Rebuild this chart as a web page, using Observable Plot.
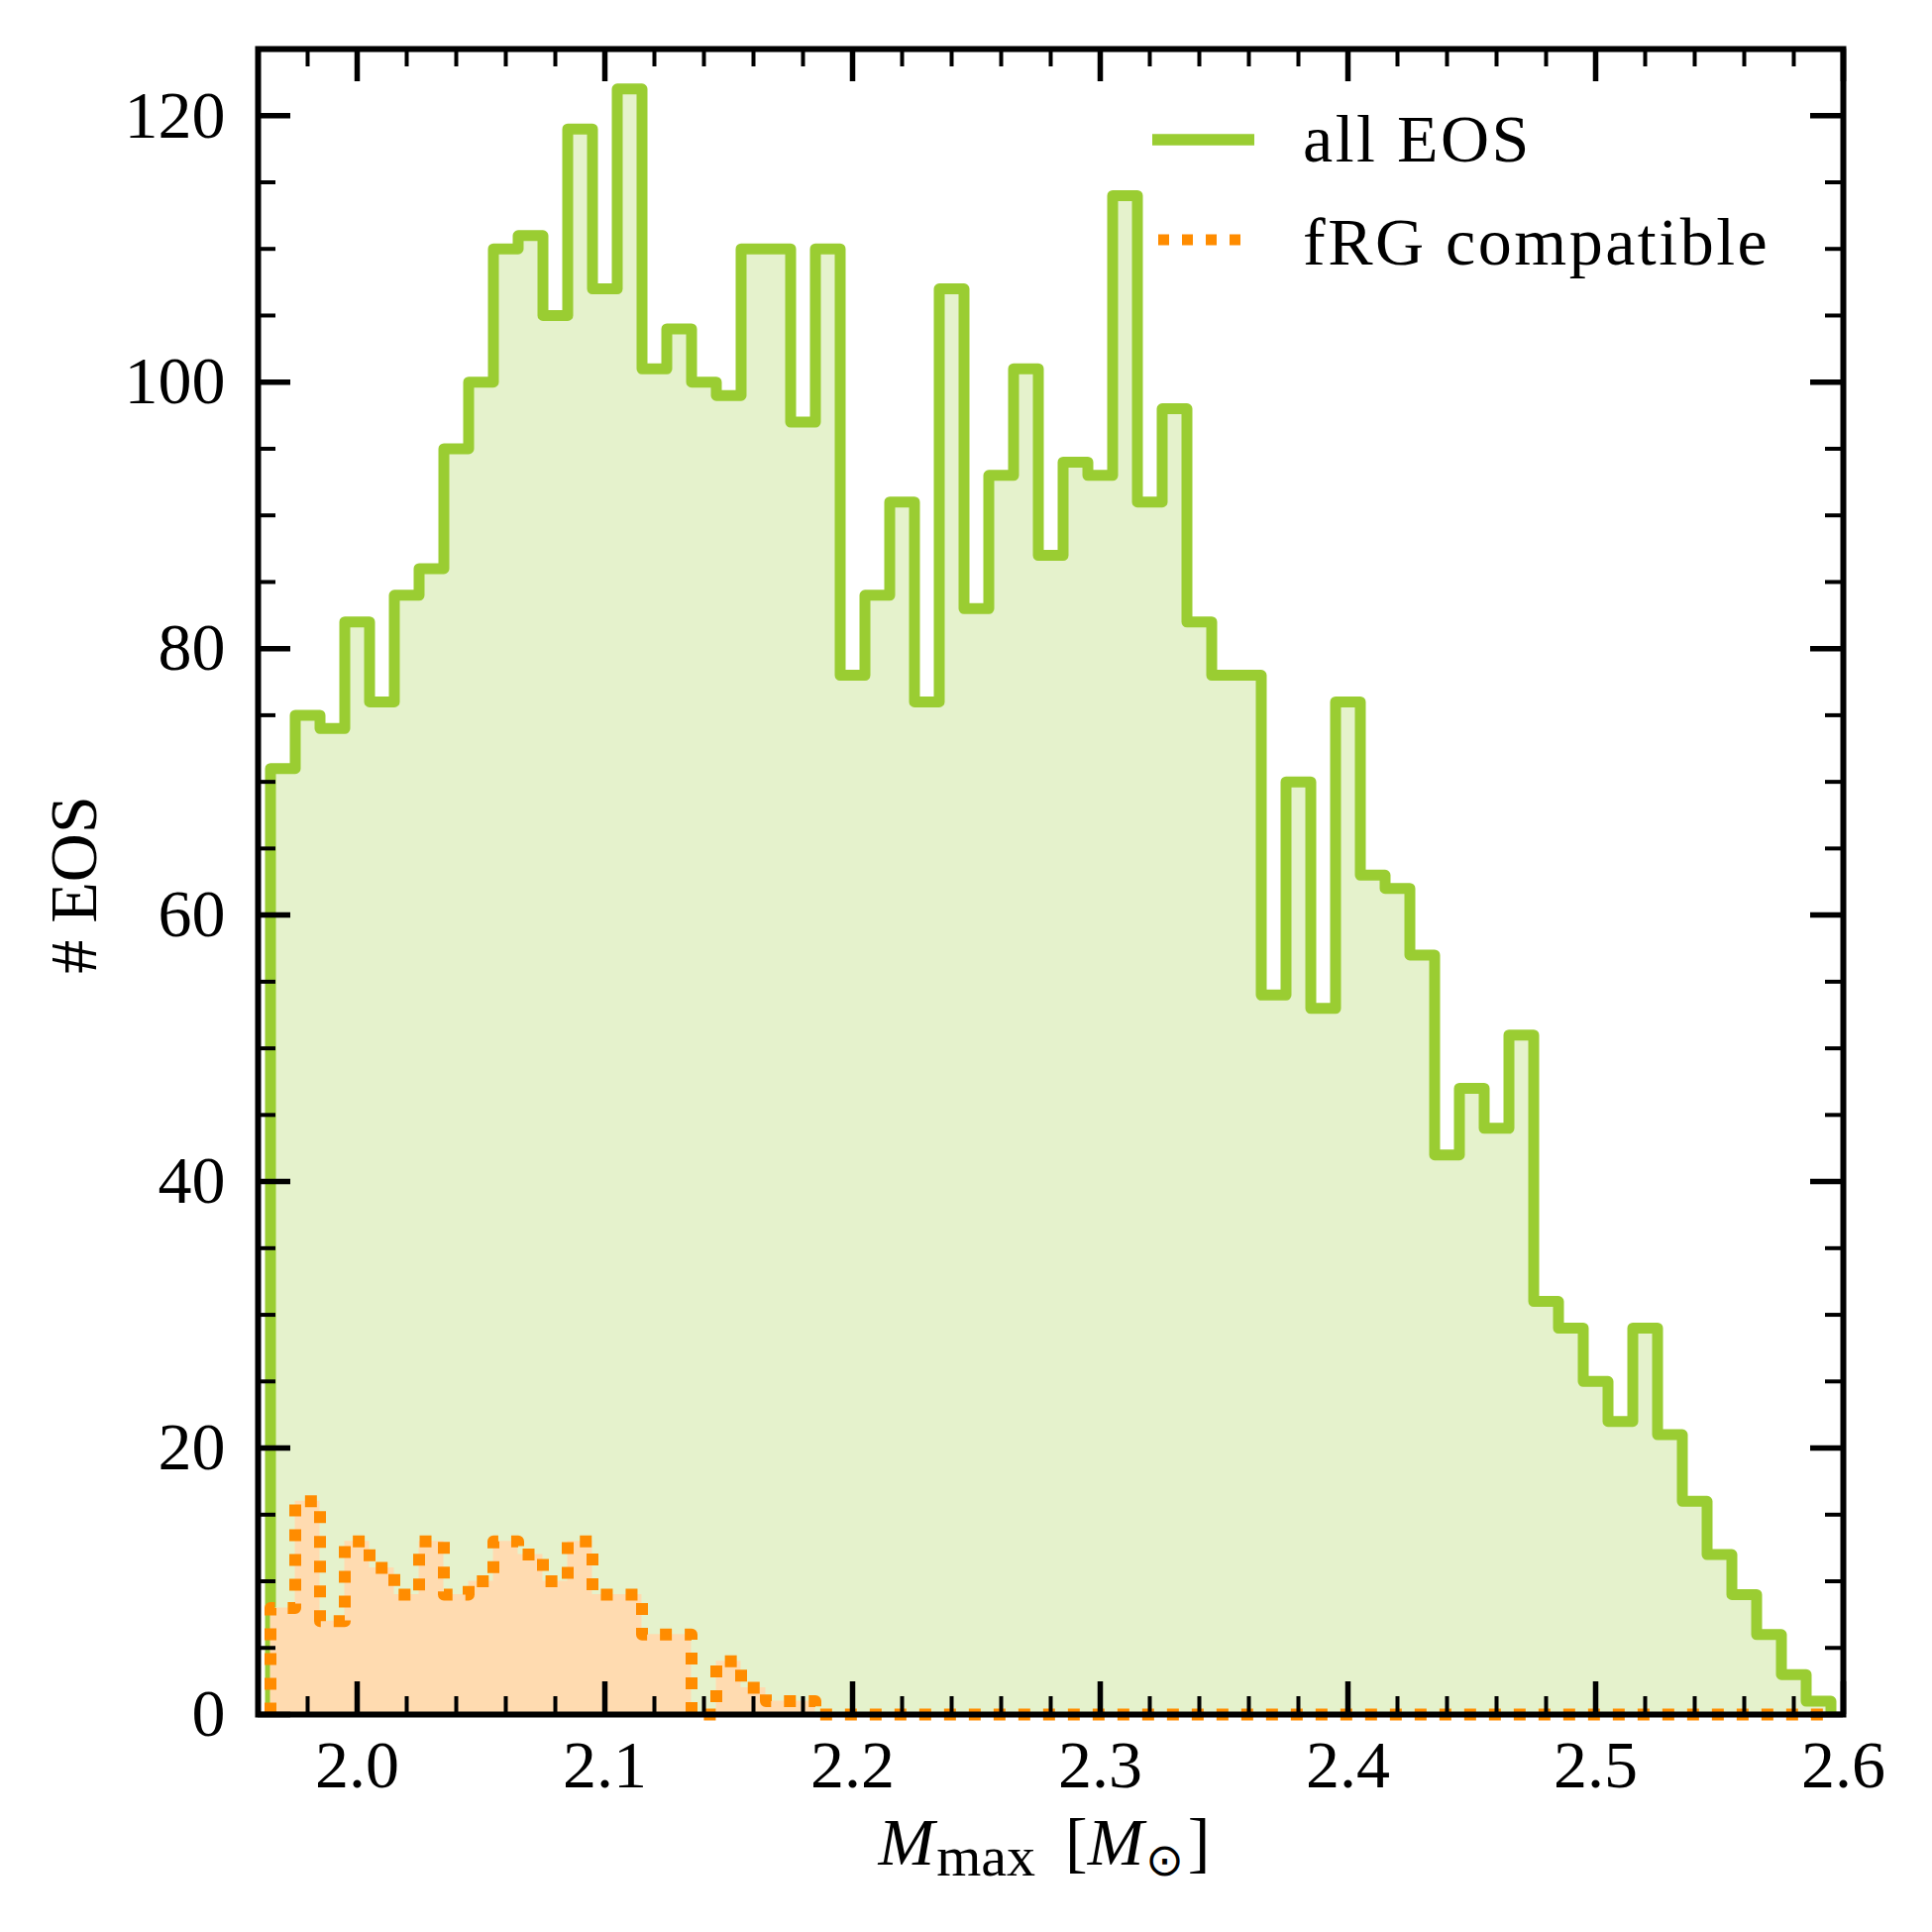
<!DOCTYPE html>
<html>
<head>
<meta charset="utf-8">
<script src="https://cdn.jsdelivr.net/npm/d3@7"></script>
<script src="https://cdn.jsdelivr.net/npm/@observablehq/plot@0.6"></script>
<style>
  html, body { margin: 0; padding: 0; background: #ffffff; }
</style>
</head>
<body>
<div id="chart"></div>
<script>
// ---- data ----
const binCenters = [
  1.97, 1.98, 1.99, 2.00, 2.01, 2.02, 2.03, 2.04, 2.05, 2.06,
  2.07, 2.08, 2.09, 2.10, 2.11, 2.12, 2.13, 2.14, 2.15, 2.16,
  2.17, 2.18, 2.19, 2.20, 2.21, 2.22, 2.23, 2.24, 2.25, 2.26,
  2.27, 2.28, 2.29, 2.30, 2.31, 2.32, 2.33, 2.34, 2.35, 2.36,
  2.37, 2.38, 2.39, 2.40, 2.41, 2.42, 2.43, 2.44, 2.45, 2.46,
  2.47, 2.48, 2.49, 2.50, 2.51, 2.52, 2.53, 2.54, 2.55, 2.56,
  2.57, 2.58, 2.59
];
const binWidth = 0.01;

const allEOS = [
  71, 75, 74, 82, 76, 84, 86, 95, 100, 110,
  111, 105, 119, 107, 122, 101, 104, 100, 99, 110,
  110, 97, 110, 78, 84, 91, 76, 107, 83, 93,
  101, 87, 94, 93, 114, 91, 98, 82, 78, 78,
  54, 70, 53, 76, 63, 62, 57, 42, 47, 44,
  51, 31, 29, 25, 22, 29, 21, 16, 12, 9,
  6, 3, 1
];

const fRGcompatible = [
  8, 16, 7, 13, 11, 9, 13, 9, 10, 13,
  12, 10, 13, 9, 9, 6, 6, 0, 4, 2,
  1, 1, 0, 0, 0, 0, 0, 0, 0, 0,
  0, 0, 0, 0, 0, 0, 0, 0, 0, 0,
  0, 0, 0, 0, 0, 0, 0, 0, 0, 0,
  0, 0, 0, 0, 0, 0, 0, 0, 0, 0,
  0, 0, 0
];

const xMajorTicks = [2.0, 2.1, 2.2, 2.3, 2.4, 2.5, 2.6];
const xMinorTicks = [1.98, 2.02, 2.04, 2.06, 2.08, 2.12, 2.14, 2.16, 2.18,
  2.22, 2.24, 2.26, 2.28, 2.32, 2.34, 2.36, 2.38, 2.42, 2.44, 2.46, 2.48,
  2.52, 2.54, 2.56, 2.58];
const yMajorTicks = [0, 20, 40, 60, 80, 100, 120];
const yMinorTicks = [5, 10, 15, 25, 30, 35, 45, 50, 55, 65, 70, 75, 85, 90, 95, 105, 110, 115];

const seriesLabels = ["all EOS", "fRG compatible"];
const xLabelParts = ["M", "max", "[", "M", "\u2299", "]"];
const yLabel = "# EOS";

// ---- layout / style ----
const W = 1950, H = 1950;
const mL = 260, mR = 90, mT = 49, mB = 220;
const plotW = W - mL - mR, plotH = H - mT - mB;
const FONT = "'Liberation Serif', 'Times New Roman', serif";
const green = "#9ACD32", greenFill = "#E5F2CC";
const orange = "#FF8C00", orangeFill = "#FFDBB0";

function stepPoints(values) {
  const pts = [{x: binCenters[0] - binWidth / 2, y: 0}];
  values.forEach((v, i) => {
    pts.push({x: binCenters[i] - binWidth / 2, y: v});
    pts.push({x: binCenters[i] + binWidth / 2, y: v});
  });
  pts.push({x: binCenters[binCenters.length - 1] + binWidth / 2, y: 0});
  return pts;
}
const allPts = stepPoints(allEOS);
const frgPts = stepPoints(fRGcompatible);

const majLen = 33, minLen = 18, majW = 5.5, minW = 4;

const chart = Plot.plot({
  width: W,
  height: H,
  marginLeft: mL,
  marginRight: mR,
  marginTop: mT,
  marginBottom: mB,
  style: {fontFamily: FONT, background: "#ffffff", color: "#000000"},
  x: {domain: [1.96, 2.6]},
  y: {domain: [0, 125]},
  marks: [
    Plot.areaY(allPts, {x: "x", y1: 0, y2: "y", fill: greenFill}),
    Plot.line(allPts, {x: "x", y: "y", stroke: green, strokeWidth: 11, strokeLinejoin: "round", strokeLinecap: "butt"}),
    Plot.areaY(frgPts, {x: "x", y1: 0, y2: "y", fill: orangeFill}),
    Plot.line(frgPts, {x: "x", y: "y", stroke: orange, strokeWidth: 12, strokeDasharray: "12 13", strokeLinejoin: "round", strokeLinecap: "butt"}),
    // inward ticks on all four sides
    Plot.tickX(xMajorTicks, {x: d => d, insetTop: plotH - majLen, stroke: "black", strokeWidth: majW}),
    Plot.tickX(xMajorTicks, {x: d => d, insetBottom: plotH - majLen, stroke: "black", strokeWidth: majW}),
    Plot.tickX(xMinorTicks, {x: d => d, insetTop: plotH - minLen, stroke: "black", strokeWidth: minW}),
    Plot.tickX(xMinorTicks, {x: d => d, insetBottom: plotH - minLen, stroke: "black", strokeWidth: minW}),
    Plot.tickY(yMajorTicks, {y: d => d, insetRight: plotW - majLen, stroke: "black", strokeWidth: majW}),
    Plot.tickY(yMajorTicks, {y: d => d, insetLeft: plotW - majLen, stroke: "black", strokeWidth: majW}),
    Plot.tickY(yMinorTicks, {y: d => d, insetRight: plotW - minLen, stroke: "black", strokeWidth: minW}),
    Plot.tickY(yMinorTicks, {y: d => d, insetLeft: plotW - minLen, stroke: "black", strokeWidth: minW}),
    Plot.axisX({ticks: xMajorTicks, tickSize: 0, tickPadding: 25, fontSize: 68, tickFormat: d => d.toFixed(1), label: null}),
    Plot.axisY({ticks: yMajorTicks, tickSize: 0, tickPadding: 33, fontSize: 68, tickFormat: d => String(d), label: null}),
    Plot.frame({stroke: "black", strokeWidth: 6})
  ]
});

document.getElementById("chart").appendChild(chart);

// ---- axis labels and legend (text/legend layout) ----
const svg = d3.select(chart);
const g = svg.append("g").attr("font-family", FONT).attr("fill", "black");

// x label: M_max [M_sun]
const xl = g.append("text")
  .attr("x", 1054).attr("y", 1882)
  .attr("text-anchor", "middle")
  .attr("font-size", 68);
xl.append("tspan").attr("font-style", "italic").text(xLabelParts[0]);
xl.append("tspan").attr("font-size", 58).attr("dy", 11).attr("dx", 2).text(xLabelParts[1]);
xl.append("tspan").attr("dy", -11).attr("dx", 30).text(xLabelParts[2]);
xl.append("tspan").attr("font-style", "italic").text(xLabelParts[3]);
xl.append("tspan").attr("font-size", 46).attr("dy", 11).attr("dx", 2)
  .attr("font-family", "'DejaVu Sans', sans-serif").text(xLabelParts[4]);
xl.append("tspan").attr("dy", -11).attr("dx", 4).text(xLabelParts[5]);

// y label
g.append("text")
  .attr("transform", "translate(97,893) rotate(-90)")
  .attr("text-anchor", "middle")
  .attr("font-size", 68)
  .text(yLabel);

// legend
const lg = svg.append("g").attr("font-family", FONT).attr("text-anchor", "start");
lg.append("line").attr("x1", 1163).attr("x2", 1266).attr("y1", 141).attr("y2", 141)
  .attr("stroke", green).attr("stroke-width", 11.5);
lg.append("line").attr("x1", 1169).attr("x2", 1253).attr("y1", 242).attr("y2", 242)
  .attr("stroke", orange).attr("stroke-width", 11).attr("stroke-dasharray", "11 13");
lg.append("text").attr("x", 1315).attr("y", 163).attr("font-size", 68)
  .attr("letter-spacing", 2.5).attr("text-anchor", "start").attr("fill", "black").text(seriesLabels[0]);
lg.append("text").attr("x", 1315).attr("y", 267).attr("font-size", 68)
  .attr("letter-spacing", 2.5).attr("text-anchor", "start").attr("fill", "black").text(seriesLabels[1]);
</script>
</body>
</html>
